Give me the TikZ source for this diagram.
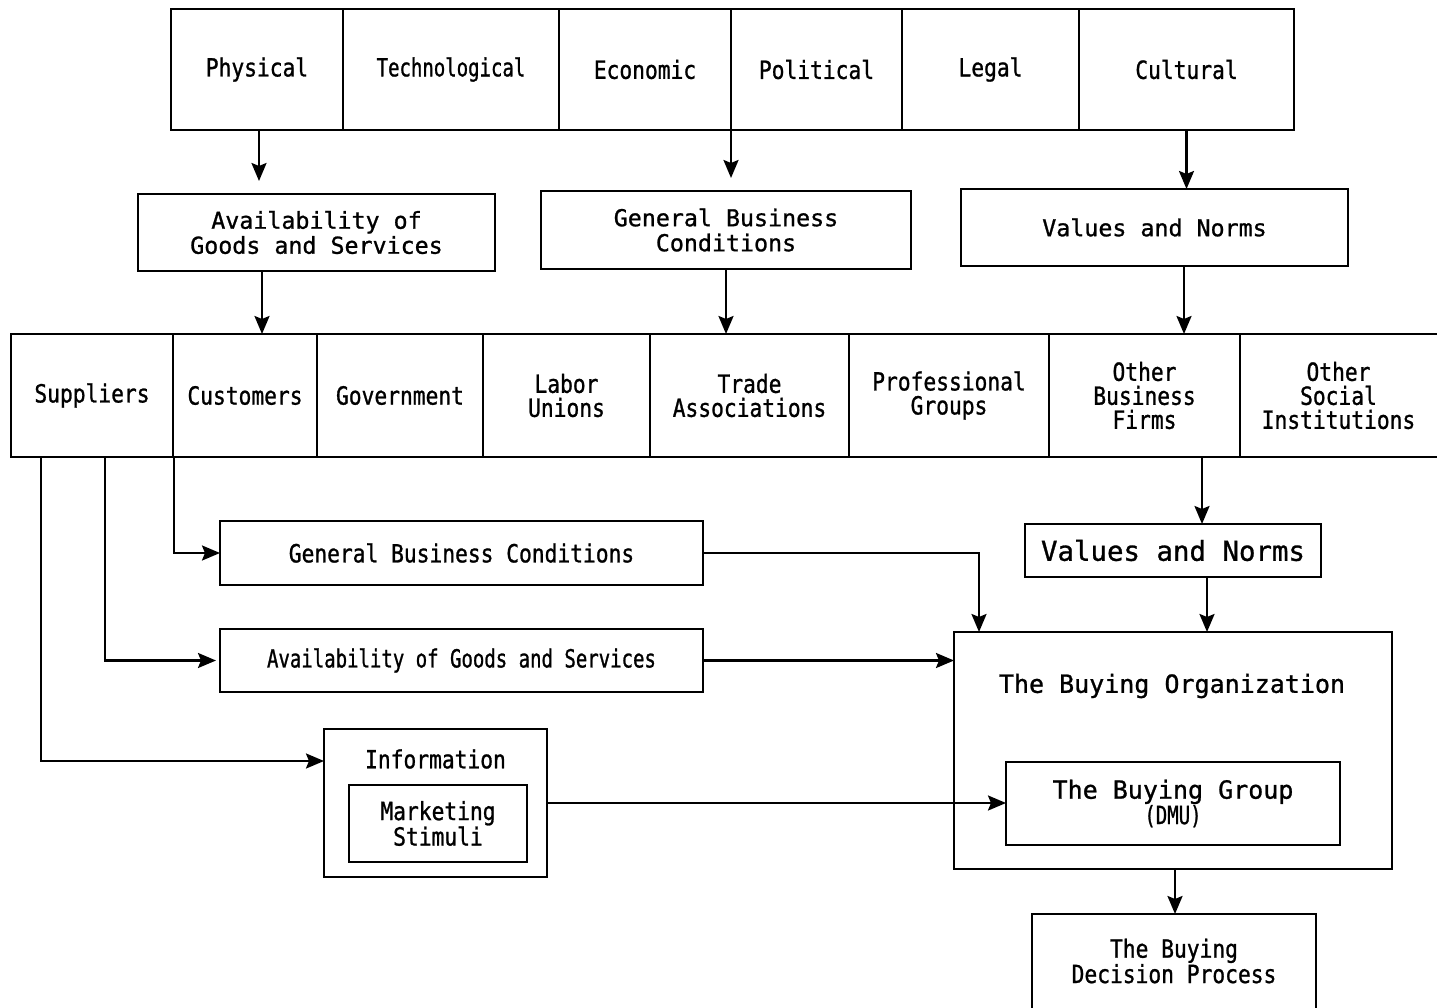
\documentclass[tikz,border=0pt]{standalone}
\usepackage{fontspec}
\usetikzlibrary{arrows.meta}
\newfontfamily\monoN[FakeStretch=0.85,FakeBold=1]{DejaVu Sans Mono}
\newfontfamily\monoC[FakeStretch=0.76,FakeBold=1]{DejaVu Sans Mono}
\newfontfamily\monoW[FakeBold=1]{DejaVu Sans Mono}

\begin{document}
\begin{tikzpicture}[x=1pt,y=-1pt,line width=2.4pt,
  every node/.style={outer sep=0pt},
  box/.style={draw,rectangle,inner sep=0pt,align=center},
  tn/.style={font=\monoN\fontsize{25}{24}\selectfont},
  tc/.style={font=\monoC\fontsize{25}{24}\selectfont},
  tw/.style={font=\monoW\fontsize{23.3}{25}\selectfont},
  tl/.style={font=\monoW\fontsize{25}{23}\selectfont},
  tx/.style={font=\monoW\fontsize{27.4}{28}\selectfont},
  arr/.style={-{Stealth[length=18pt,width=15pt,inset=3pt]}},
]
\useasboundingbox[fill=white] (0,0) rectangle (1437,1008);

% environmental forces
\node[box,tn,minimum width=172,minimum height=121] (phys)  at (257,69.5)   {Physical};
\node[box,tc,minimum width=216,minimum height=121] (tech)  at (451,69.5)   {Technological};
\node[box,tn,minimum width=172,minimum height=121] (econ)  at (645,69.5)   {Economic};
\node[box,tn,minimum width=171,minimum height=121] (poli)  at (816.5,69.5) {Political};
\node[box,tn,minimum width=177,minimum height=121] (legal) at (990.5,69.5) {Legal};
\node[box,tn,minimum width=215,minimum height=121] (cult)  at (1186.5,69.5){Cultural};

% second level
\node[box,tw,minimum width=357,minimum height=77] (avail1) at (316.5,232.5) {Availability of\\Goods and Services};
\node[box,tw,minimum width=370,minimum height=78] (gbc1)   at (726,230)     {General Business\\Conditions};
\node[box,tw,minimum width=387,minimum height=77] (vn1)    at (1154.5,227.5){Values and Norms};

% institutions row
\node[box,tn,minimum width=162,minimum height=123] (sup)   at (92,395.5)    {Suppliers};
\node[box,tn,minimum width=144,minimum height=123] (cust)  at (245,395.5)   {Customers};
\node[box,tn,minimum width=166,minimum height=123] (gov)   at (400,395.5)   {Government};
\node[box,tn,minimum width=167,minimum height=123] (labor) at (566.5,395.5) {Labor\\Unions};
\node[box,tn,minimum width=199,minimum height=123] (trade) at (749.5,395.5) {Trade\\Associations};
\node[box,tn,minimum width=200,minimum height=123] (prof)  at (949,395.5)   {Professional\\Groups};
\node[box,tn,minimum width=191,minimum height=123] (obf)   at (1144.5,395.5){Other\\Business\\Firms};
\node[tn,align=center,inner sep=0pt,minimum width=197,minimum height=123] (osi) at (1338.5,395.5) {Other\\Social\\Institutions};
\draw (osi.north east) -- (osi.north west) -- (osi.south west) -- (osi.south east);

% inputs to the buying organization
\node[box,tn,minimum width=483,minimum height=64] (gbc2)   at (461.5,553)   {General Business Conditions};
\node[box,tc,minimum width=483,minimum height=63] (avail2) at (461.5,660.5) {Availability of Goods and Services};
\node[box,minimum width=223,minimum height=148] (info) at (435.5,803) {};
\node[tn,inner sep=0pt] (infol) at (435.5,759) {Information};
\node[box,tn,minimum width=178,minimum height=77] (mkt) at (438,823.5) {Marketing\\Stimuli};
\node[box,tx,minimum width=296,minimum height=53] (vn2) at (1173,550.5) {Values and Norms};

% buying organization
\node[box,minimum width=438,minimum height=237] (org) at (1173,750.5) {};
\node[tl,inner sep=0pt] (orgl) at (1172,686) {The Buying Organization};
\node[box,tl,minimum width=334,minimum height=83] (grp) at (1173,803.5) {The Buying Group\\{\monoC (DMU)}};
\node[tn,align=center,inner sep=0pt,minimum width=284,minimum height=94] (dec) at (1174,961) {The Buying\\Decision Process};
\draw (dec.south west) -- (dec.north west) -- (dec.north east) -- (dec.south east);

% connectors
\draw[arr,shorten >=13pt] ([xshift=2pt]phys.south) -- ([xshift=2pt]phys.south |- avail1.north);
\draw[arr,shorten >=13pt] (econ.south east) -- (econ.south east |- gbc1.north);
\draw[arr] (cult.south) -- (cult.south |- vn1.north);

\draw[arr] ([xshift=-54.5pt]avail1.south) -- ([xshift=-54.5pt]avail1.south |- cust.north);
\draw[arr] (gbc1.south) -- (gbc1.south |- trade.north);
\draw[arr] ([xshift=29.5pt]vn1.south) -- ([xshift=29.5pt]vn1.south |- obf.north);

\draw[arr] ([xshift=1pt]cust.south west) |- (gbc2.west);
\draw[arr,shorten >=4pt] ([xshift=13pt]sup.south) |- (avail2.west);
\draw[arr] ([xshift=-51pt]sup.south) |- ([yshift=42pt]info.west);

\draw[arr] ([xshift=57.5pt]obf.south) -- ([xshift=57.5pt]obf.south |- vn2.north);
\draw[arr] ([xshift=34pt]vn2.south) -- ([xshift=34pt]vn2.south |- org.north);
\draw[arr] (gbc2.east) -| ([xshift=-194pt]org.north);
\draw[arr] (avail2.east) -- (avail2.east -| org.west);
\draw[arr] (info.east) -- (info.east -| grp.west);
\draw[arr] ([xshift=2pt]org.south) -- ([xshift=2pt]org.south |- dec.north);
\end{tikzpicture}
\end{document}
